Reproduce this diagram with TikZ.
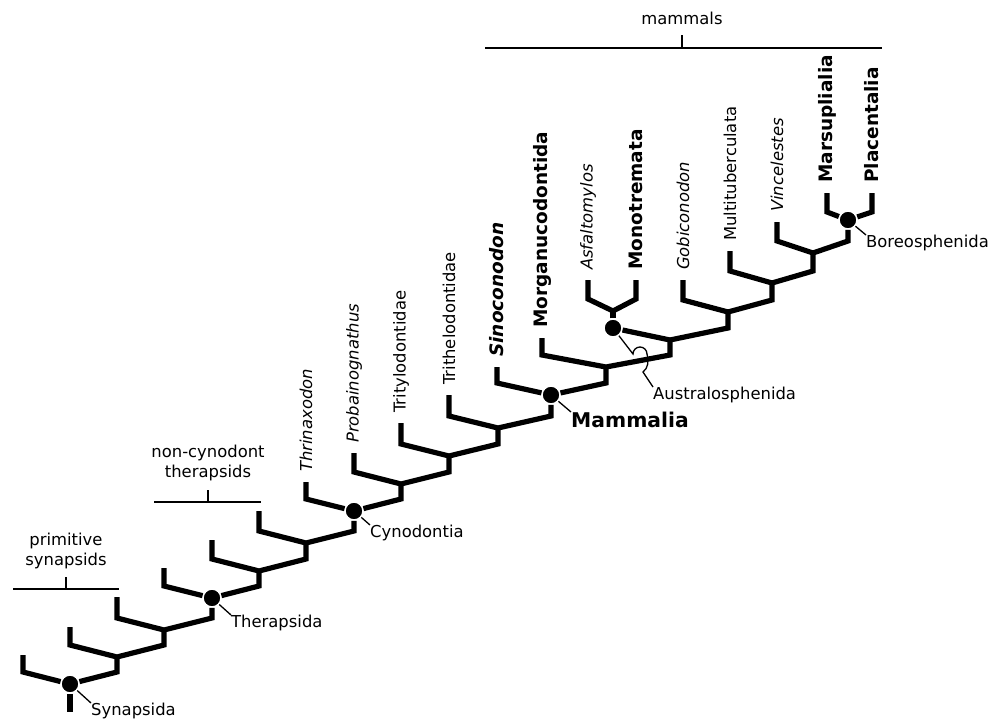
\documentclass[tikz,border=0pt]{standalone}
\usepackage{fontspec}
\setmainfont{DejaVu Sans}
\usetikzlibrary{positioning,calc}

\newcommand{\taxfont}{\fontsize{16.4pt}{20pt}\selectfont}
\newcommand{\boldfont}{\fontsize{18.5pt}{22pt}\selectfont}
\newcommand{\mamfont}{\fontsize{20.3pt}{24pt}\selectfont}
% one split of the tree: left tip, junction, right child
\newcommand{\fork}[4][12]{%
  \draw[branch] (#3) -- ($(#3 |- #2)+(0,-#1)$) -- (#2) -- ($(#4 |- #2)+(0,-#1)$) -- (#4);}

\begin{document}
\begin{tikzpicture}[x=1pt, y=-1pt,
  branch/.style={line width=5.2pt},
  leader/.style={line width=1.3pt},
  bracket/.style={line width=1.3pt},
  clade dot/.style={circle, fill=black, draw=white, line width=1.5pt,
                    inner sep=0pt, minimum size=18pt},
  taxon/.style={rotate=90, anchor=west, inner sep=0pt, font=\taxfont},
  taxon it/.style={taxon, font=\taxfont\itshape},
  taxon bf/.style={taxon, font=\boldfont\bfseries},
  taxon bfit/.style={taxon, font=\boldfont\bfseries\itshape},
  note/.style={anchor=north west, inner sep=0pt, font=\taxfont},
  group/.style={align=center, inner sep=0pt, font=\taxfont}]
\useasboundingbox (0,0) rectangle (1002,720);

% named clades
\node[clade dot] (synapsida)  at (70,684) {};
\node[clade dot] (therapsida) at (212,598) {};
\node[clade dot] (cynodontia) at (354,511) {};
\node[clade dot] (mammalia)   at (551,395) {};
\node[clade dot] (australo)   at (613,328) {};
\node[clade dot] (boreo)      at (848,220) {};

% unnamed junctions
\coordinate (root)  at (70,712);
\coordinate (j2)    at (117,657);
\coordinate (j3)    at (164,630);
\coordinate (j5)    at (259,571);
\coordinate (j6)    at (306,543);
\coordinate (j8)    at (401,484);
\coordinate (j9)    at (449,456);
\coordinate (j10)   at (498,428);
\coordinate (j12)   at (606,367);
\coordinate (j13)   at (670,340);
\coordinate (mfork) at (613,311);
\coordinate (j14)   at (728,312);
\coordinate (j15)   at (772,283);
\coordinate (j16)   at (813,253);

% tips
\coordinate (t1) at (23,655);
\coordinate (t2) at (70,627);
\coordinate (t3) at (117,597);
\coordinate (t4) at (164,568);
\coordinate (t5) at (212,540);
\coordinate (t6) at (259,511);
\coordinate (t-thrin)  at (306,482);
\coordinate (t-prob)   at (354,453);
\coordinate (t-trityl) at (401,423);
\coordinate (t-trith)  at (449,395);
\coordinate (t-sino)   at (497,367);
\coordinate (t-morg)   at (542,338);
\coordinate (t-asf)    at (588,280);
\coordinate (t-mono)   at (636,280);
\coordinate (t-gobi)   at (683,280);
\coordinate (t-multi)  at (730,251);
\coordinate (t-vince)  at (777,222);
\coordinate (t-mars)   at (827,193);
\coordinate (t-plac)   at (872,193);

% branches
\draw[branch] (synapsida) -- (root);
\fork{synapsida}{t1}{j2}
\fork{j2}{t2}{j3}
\fork{j3}{t3}{therapsida}
\fork{therapsida}{t4}{j5}
\fork{j5}{t5}{j6}
\fork{j6}{t6}{cynodontia}
\fork{cynodontia}{t-thrin}{j8}
\fork{j8}{t-prob}{j9}
\fork{j9}{t-trityl}{j10}
\fork{j10}{t-trith}{mammalia}
\fork{mammalia}{t-sino}{j12}
\fork{j12}{t-morg}{j13}
\draw[branch] (australo) -- (j13) -- ($(j14 |- j13)+(0,-12)$) -- (j14);
\draw[branch] (australo) -- (mfork);
\fork{mfork}{t-asf}{t-mono}
\fork{j14}{t-gobi}{j15}
\fork{j15}{t-multi}{j16}
\fork{j16}{t-vince}{boreo}
\fork[8]{boreo}{t-mars}{t-plac}

% taxa
\node[above=10pt of t-thrin, taxon it]  (thrin)  {Thrinaxodon};
\node[above=10pt of t-prob, taxon it]   (prob)   {Probainognathus};
\node[above=10pt of t-trityl, taxon]    (trityl) {Tritylodontidae};
\node[above=10pt of t-trith, taxon]     (trith)  {Trithelodontidae};
\node[above=10pt of t-sino, taxon bfit] (sino)   {Sinoconodon};
\node[above=10pt of t-morg, taxon bf]   (morg)   {Morganucodontida};
\node[above=10pt of t-asf, taxon it]    (asf)    {Asfaltomylos};
\node[above=10pt of t-mono, taxon bf]   (mono)   {Monotremata};
\node[above=10pt of t-gobi, taxon it]   (gobi)   {Gobiconodon};
\node[above=10pt of t-multi, taxon]     (multi)  {Multituberculata};
\node[above=10pt of t-vince, taxon it]  (vince)  {Vincelestes};
\node[above=10pt of t-mars, taxon bf]   (mars)   {Marsuplialia};
\node[above=10pt of t-plac, taxon bf]   (plac)   {Placentalia};

% clade names
\node[note] (synapsida-lbl)  at (91,703)  {Synapsida};
\node[note] (therapsida-lbl) at (231,615) {Therapsida};
\node[note] (cynodontia-lbl) at (370,525) {Cynodontia};
\node[note, font=\mamfont\bfseries] (mammalia-lbl) at (571,412) {Mammalia};
\node[note] (australo-lbl)   at (653,387) {Australosphenida};
\node[note] (boreo-lbl)      at (866,235) {Boreosphenida};
\draw[leader] (synapsida) -- (synapsida-lbl.north west);
\draw[leader] (therapsida) -- (therapsida-lbl.north west);
\draw[leader] (cynodontia) -- (cynodontia-lbl.north west);
\draw[leader] (mammalia) -- (mammalia-lbl.north west);
\draw[leader] (boreo) -- (boreo-lbl.north west);
\draw[leader] (australo) -- (633,354) arc[start angle=180, end angle=360, radius=7]
  .. controls (649,362) and (648,368) .. (643,372) -- (australo-lbl.north west);

% groups
\coordinate (mam-w) at (485,48);
\coordinate (mam-e) at (882,48);
\coordinate (mam-top) at (682,35);
\draw[bracket] (mam-w) -- (mam-e);
\draw[bracket] (mam-top) -- (mam-top |- mam-w);
\node[group, above=10pt of mam-top] (mam-lbl) {mammals};

\coordinate (ncy-w) at (154,502);
\coordinate (ncy-e) at (261,502);
\coordinate (ncy-top) at (208,490);
\draw[bracket] (ncy-w) -- (ncy-e);
\draw[bracket] (ncy-top) -- (ncy-top |- ncy-w);
\node[group, above=9pt of ncy-top] (ncy-lbl) {non-cynodont\\therapsids};

\coordinate (prim-w) at (13,589);
\coordinate (prim-e) at (119,589);
\coordinate (prim-top) at (66,577);
\draw[bracket] (prim-w) -- (prim-e);
\draw[bracket] (prim-top) -- (prim-top |- prim-w);
\node[group, above=8pt of prim-top] (prim-lbl) {primitive\\synapsids};
\end{tikzpicture}
\end{document}
